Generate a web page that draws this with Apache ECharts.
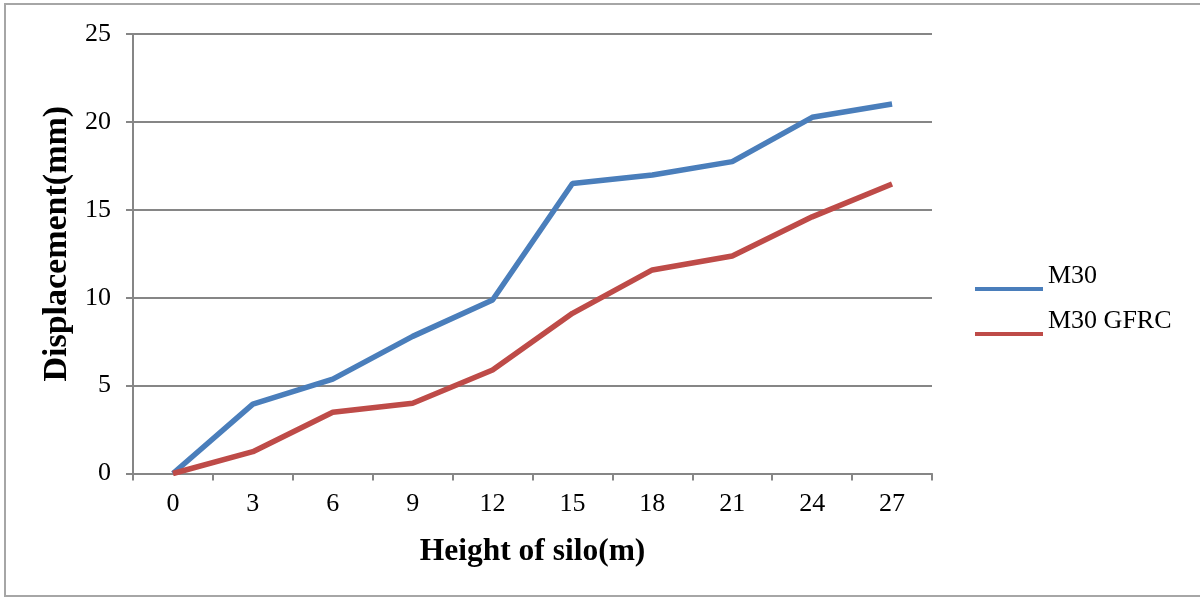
<!DOCTYPE html>
<html>
<head>
<meta charset="utf-8">
<script src="https://cdn.jsdelivr.net/npm/echarts@6/dist/echarts.min.js"></script>
<style>
  html, body { margin: 0; padding: 0; background: #fff; }
  #chart { width: 1200px; height: 597px; }
</style>
</head>
<body>
<div id="chart"></div>
<script>
// Silo wall displacement along height
const heights = ['0', '3', '6', '9', '12', '15', '18', '21', '24', '27'];
const m30 = [0, 3.95, 5.37, 7.8, 9.87, 16.5, 16.98, 17.74, 20.26, 21.02];
const m30Gfrc = [0, 1.24, 3.48, 4.0, 5.89, 9.11, 11.58, 12.37, 14.6, 16.47];
const yTicks = { min: 0, max: 25, interval: 5 };

const serif = '"Liberation Serif", "Times New Roman", serif';
const axisGray = '#868686';

const chart = echarts.init(document.getElementById('chart'), null, { renderer: 'canvas' });
chart.setOption({
  backgroundColor: '#fff',
  animation: false,
  graphic: [{
    type: 'rect',
    shape: { x: 5, y: 4, width: 1210, height: 592 },
    style: { fill: 'none', stroke: '#a6a6a6', lineWidth: 2 },
    silent: true
  }],
  grid: { left: 133, right: 268, top: 34, bottom: 123.5 },
  legend: {
    orient: 'vertical',
    left: 975,
    top: 263,
    padding: 0,
    itemWidth: 68,
    itemHeight: 4,
    itemGap: -7,
    icon: 'rect',
    // a blank second line lifts each label above its swatch
    formatter: name => name + '\n ',
    textStyle: { fontFamily: serif, fontSize: 26, lineHeight: 26, color: '#000' },
    data: ['M30', 'M30 GFRC']
  },
  xAxis: {
    type: 'category',
    data: heights,
    boundaryGap: true,
    name: 'Height of silo(m)',
    nameLocation: 'middle',
    nameGap: 62,
    nameTextStyle: { fontFamily: serif, fontSize: 31.5, fontWeight: 'bold', color: '#000' },
    axisLine: { lineStyle: { color: axisGray, width: 2 } },
    axisTick: { show: true, length: 7, interval: 0, lineStyle: { color: axisGray, width: 2 } },
    axisLabel: { fontFamily: serif, fontSize: 26, color: '#000', margin: 18, interval: 0 },
    splitLine: { show: false }
  },
  yAxis: {
    type: 'value',
    min: yTicks.min,
    max: yTicks.max,
    interval: yTicks.interval,
    name: 'Displacement(mm)',
    nameLocation: 'middle',
    nameGap: 50,
    nameTextStyle: { fontFamily: serif, fontSize: 34, fontWeight: 'bold', color: '#000', padding: [0, 0, 0, 20] },
    axisLine: { show: true, lineStyle: { color: axisGray, width: 2 } },
    axisTick: { show: true, length: 7, lineStyle: { color: axisGray, width: 2 } },
    axisLabel: { fontFamily: serif, fontSize: 26, color: '#000', margin: 22 },
    splitLine: { show: true, lineStyle: { color: axisGray, width: 2 } }
  },
  series: [
    {
      name: 'M30',
      type: 'line',
      data: m30,
      symbol: 'none',
      lineStyle: { color: '#4A7EBB', width: 5.5 },
      itemStyle: { color: '#4A7EBB' }
    },
    {
      name: 'M30 GFRC',
      type: 'line',
      data: m30Gfrc,
      symbol: 'none',
      lineStyle: { color: '#BE4B48', width: 5.5 },
      itemStyle: { color: '#BE4B48' }
    }
  ]
});
</script>
</body>
</html>
